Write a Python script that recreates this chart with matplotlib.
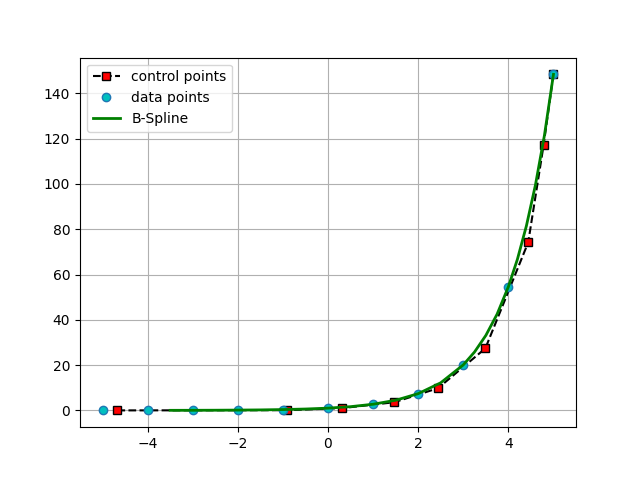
import matplotlib
matplotlib.use("Agg")
import matplotlib.pyplot as plt

# data points (integer x)
data_x = [-5, -4, -3, -2, -1, 0, 1, 2, 3, 4, 5]
data_y = [0.007, 0.018, 0.05, 0.14, 0.37, 1.0, 2.72, 7.39, 20.1, 54.6, 148.4]

# control points of the spline
ctrl_x = [-4.67, -0.91, 0.31, 1.47, 2.44, 3.49, 4.44, 4.78, 5.0]
ctrl_y = [0.0, 0.1, 1.0, 3.6, 9.8, 27.4, 74.2, 117.0, 148.4]

# samples along the drawn spline curve
curve_x = [-3.5, -3.0, -2.5, -2.0, -1.5, -1.0, -0.5, 0.0, 0.5, 1.0, 1.5,
           2.0, 2.5, 3.0, 3.25, 3.5, 3.75, 4.0, 4.2, 4.4, 4.6, 4.8, 5.0]
curve_y = [0.03, 0.05, 0.08, 0.14, 0.22, 0.37, 0.61, 1.0, 1.65, 2.72, 4.48,
           7.39, 12.2, 20.1, 25.8, 33.1, 42.5, 54.6, 66.7, 81.5, 99.5, 121.5, 148.4]

fig, ax = plt.subplots(figsize=(6.4, 4.8), dpi=100)

ax.plot(ctrl_x, ctrl_y, "k--", marker="s", markerfacecolor="red",
        markeredgecolor="black", markersize=6, label="control points")
ax.plot(data_x, data_y, "o", markerfacecolor="c", markeredgecolor="tab:blue",
        markersize=6, label="data points")
ax.plot(curve_x, curve_y, color="green", linewidth=2, label="B-Spline")

ax.grid(True)
ax.legend(loc="upper left")

plt.savefig("out.png", dpi=100)
plt.close()
